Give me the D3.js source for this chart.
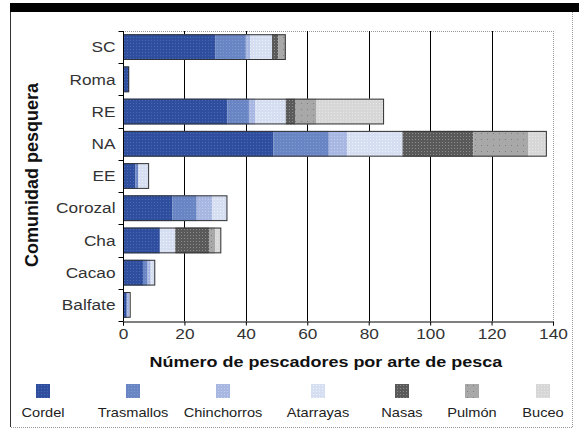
<!DOCTYPE html>
<html>
<head>
<meta charset="utf-8">
<script src="https://cdn.jsdelivr.net/npm/d3@7"></script>
<style>
  html, body { margin: 0; padding: 0; background: #fff; }
  svg { display: block; font-family: "Liberation Sans", Arial, sans-serif; }
</style>
</head>
<body>
<svg id="chart" width="579" height="432"></svg>
<script>
// Fishing communities (top to bottom) and fishers per fishing gear
const categories = ["SC", "Roma", "RE", "NA", "EE", "Corozal", "Cha", "Cacao", "Balfate"];
const gears = ["Cordel", "Trasmallos", "Chinchorros", "Atarrayas", "Nasas", "Pulmón", "Buceo"];
const cordel      = [30, 2, 34, 49, 4, 16, 12, 6.5, 1];
const trasmallos  = [10, 0, 7, 18, 1, 8, 0, 1.5, 0.5];
const chinchorros = [1.5, 0, 2, 6, 0, 5, 0, 1, 0.5];
const atarrayas   = [7, 0, 10, 18, 3.5, 5, 5, 1.5, 0.5];
const nasas       = [2, 0, 3, 23, 0, 0, 11, 0, 0];
const pulmon      = [2.5, 0, 7, 18, 0, 0, 2, 0, 0];
const buceo       = [0, 0, 22, 6, 0, 0, 2, 0, 0];
const xTicks = [0, 20, 40, 60, 80, 100, 120, 140];

const seriesValues = [cordel, trasmallos, chinchorros, atarrayas, nasas, pulmon, buceo];
const fills = ["#2f4f9e", "#6a85c3", "#a7b7e1", "#d6def1", "#5a5a5a", "#a8a8a8", "#d7d7d7"];
const dots  = ["#4a68b4", "#8299cf", "#c2cdeb", "#eef1fa", "#8a8a8a", "#7e7e7e", "#e6e6e6"];

const rows = categories.map((c, i) => {
  const r = { cat: c };
  gears.forEach((g, k) => r[g] = seriesValues[k][i]);
  return r;
});

const svg = d3.select("#chart");
const defs = svg.append("defs");
gears.forEach((g, k) => {
  const p = defs.append("pattern")
    .attr("id", "pat" + k).attr("patternUnits", "userSpaceOnUse")
    .attr("width", k === 5 ? 6 : 3).attr("height", k === 5 ? 6 : 3);
  p.append("rect").attr("width", 6).attr("height", 6).attr("fill", fills[k]);
  p.append("rect").attr("x", 1).attr("y", 1).attr("width", 1).attr("height", 1).attr("fill", dots[k]);
});

const stretch = sx => `transform-box: fill-box; transform-origin: center; transform: scaleX(${sx})`;

// Outer frame
svg.append("rect").attr("x", 10).attr("y", 3).attr("width", 569).attr("height", 9).attr("fill", "#000");
svg.append("line").attr("x1", 10.5).attr("x2", 10.5).attr("y1", 12).attr("y2", 427).attr("stroke", "#333");
svg.append("line").attr("x1", 11).attr("x2", 572).attr("y1", 427.5).attr("y2", 427.5).attr("stroke", "#999").attr("stroke-dasharray", "1,1");
svg.append("line").attr("x1", 572.5).attr("x2", 572.5).attr("y1", 12).attr("y2", 427).attr("stroke", "#999").attr("stroke-dasharray", "1,1");

const m = { left: 123, right: 553, top: 31, bottom: 321 };
const x = d3.scaleLinear().domain([0, 140]).range([m.left, m.right]);
const y = d3.scaleBand().domain(categories).range([m.top, m.bottom]).paddingInner(0.2).paddingOuter(0.1);

// Plot border (top/right dotted) and vertical gridlines
const plot = svg.append("g");
plot.append("line").attr("x1", m.left).attr("x2", m.right).attr("y1", m.top + 0.5).attr("y2", m.top + 0.5)
  .attr("stroke", "#999").attr("stroke-dasharray", "1,1");
plot.append("line").attr("x1", m.right + 0.5).attr("x2", m.right + 0.5).attr("y1", m.top).attr("y2", m.bottom)
  .attr("stroke", "#999").attr("stroke-dasharray", "1,1");
plot.selectAll("line.grid").data(xTicks.slice(1, -1)).join("line")
  .attr("class", "grid")
  .attr("x1", d => Math.round(x(d)) + 0.5).attr("x2", d => Math.round(x(d)) + 0.5)
  .attr("y1", m.top).attr("y2", m.bottom).attr("stroke", "#000");

// Stacked bars
const stack = d3.stack().keys(gears)(rows);
const bars = svg.append("g");
stack.forEach((s, k) => {
  bars.selectAll(null).data(s).join("rect")
    .attr("x", d => x(d[0]))
    .attr("y", d => y(d.data.cat))
    .attr("width", d => x(d[1]) - x(d[0]))
    .attr("height", y.bandwidth())
    .attr("fill", `url(#pat${k})`);
});
bars.selectAll("rect.outline").data(rows).join("rect")
  .attr("class", "outline")
  .attr("x", x(0) + 0.5)
  .attr("y", d => y(d.cat) + 0.5)
  .attr("width", d => x(d3.sum(gears, g => d[g])) - x(0) - 1)
  .attr("height", y.bandwidth() - 1)
  .attr("fill", "none").attr("stroke", "#333");

// Axes
const xAxis = svg.append("g").attr("transform", `translate(0,${m.bottom + 0.5})`)
  .call(d3.axisBottom(x).tickValues(xTicks).tickSize(4).tickPadding(3).tickFormat(d3.format("d")));
xAxis.select(".domain").attr("stroke", "#000");
xAxis.selectAll(".tick line").attr("stroke", "#000");
xAxis.selectAll(".tick text").attr("font-size", 15).attr("fill", "#333")
  .attr("font-family", "Liberation Sans, Arial, sans-serif")
  .attr("style", stretch(1.15));

const yAxisG = svg.append("g").attr("transform", `translate(${m.left + 0.5},0)`);
yAxisG.append("line").attr("y1", m.top).attr("y2", m.bottom).attr("stroke", "#000");
const bounds = categories.map(c => y(c) - y.step() * y.paddingInner() / 2).concat([m.bottom]);
yAxisG.selectAll("line.tk").data(bounds).join("line").attr("class", "tk")
  .attr("x1", -5).attr("x2", 0).attr("y1", d => Math.round(d) + 0.5).attr("y2", d => Math.round(d) + 0.5)
  .attr("stroke", "#000");
yAxisG.selectAll("text").data(categories).join("text")
  .attr("x", -8).attr("y", d => y(d) + y.bandwidth() / 2).attr("dy", "0.35em")
  .attr("text-anchor", "end").attr("font-size", 15).attr("fill", "#333")
  .attr("style", "transform-box: fill-box; transform-origin: right center; transform: scaleX(1.15)")
  .text(d => d);

// Axis titles
svg.append("text").attr("x", 326).attr("y", 367).attr("text-anchor", "middle")
  .attr("font-size", 15).attr("font-weight", "bold").attr("fill", "#111")
  .attr("style", stretch(1.2))
  .text("Número de pescadores por arte de pesca");
svg.append("text").attr("transform", "translate(38,175) rotate(-90)").attr("text-anchor", "middle")
  .attr("font-size", 18).attr("font-weight", "bold").attr("fill", "#111")
  .text("Comunidad pesquera");

// Legend
const legendX = [43, 133, 223, 318, 402, 472, 543];
const lg = svg.append("g").selectAll("g").data(gears).join("g")
  .attr("transform", (d, i) => `translate(${legendX[i]},0)`);
lg.append("rect").attr("x", -7).attr("y", 384).attr("width", 14).attr("height", 14)
  .attr("fill", (d, i) => `url(#pat${i})`);
lg.append("text").attr("y", 417).attr("text-anchor", "middle").attr("font-size", 13.5).attr("fill", "#222")
  .attr("style", stretch(1.08))
  .text(d => d);
</script>
</body>
</html>
